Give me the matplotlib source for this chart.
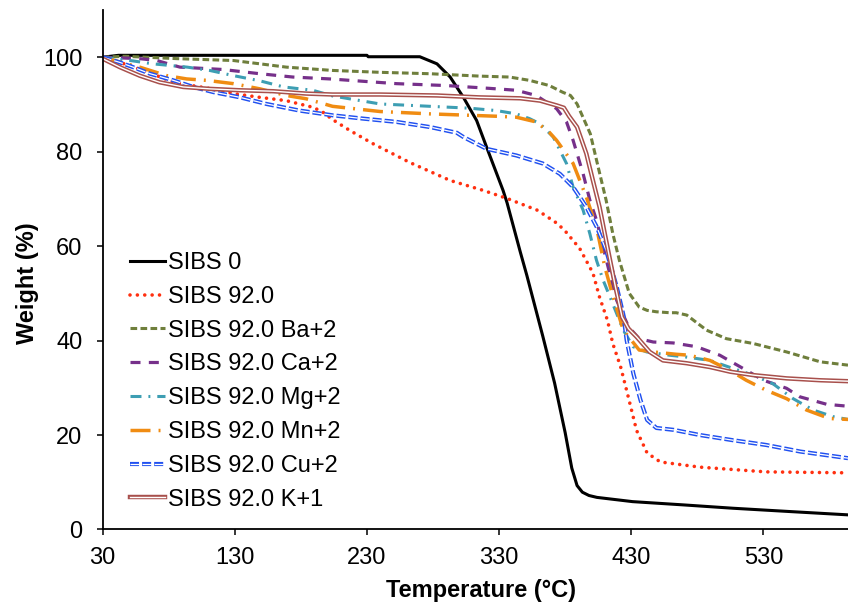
import matplotlib
matplotlib.use("Agg")
import matplotlib.pyplot as plt

plt.rcParams["font.family"] = ["Liberation Sans", "DejaVu Sans"]
plt.rcParams["lines.scale_dashes"] = False

# TGA curves (temperature in C, weight in %)
t_sibs0 = [30, 42, 100, 230, 231, 270, 283, 293, 303, 313, 320.5, 333, 336, 346, 351, 363, 372, 380, 385, 389, 393, 398, 404, 431, 470, 507, 550, 594]
w_sibs0 = [100, 100.4, 100.4, 100.4, 100.1, 100.1, 98.6, 95.8, 91.5, 86.6, 81, 71.8, 69.2, 58.8, 53.8, 41.0, 31.0, 20.5, 13.0, 9.3, 7.9, 7.2, 6.8, 5.9, 5.2, 4.5, 3.8, 3.1]

t_920 = [30, 51, 71, 81, 88.5, 104, 119, 129, 149, 169, 189, 196, 204, 217, 234.5, 262.5, 293, 318, 336, 359, 374, 380, 391, 401, 406, 412, 416, 422, 427, 434, 442, 452, 482, 532, 594]
w_920 = [100, 98.2, 96.1, 95, 94.4, 93.7, 93, 92.3, 91.5, 90.8, 89.4, 88.5, 86.8, 84.5, 81.7, 77.7, 73.9, 71.8, 70.1, 67.6, 64.8, 63.2, 59.5, 54.3, 49.2, 44.3, 39.4, 34.4, 28.9, 21, 16.2, 14.3, 13.2, 12.2, 12.0]

t_ba = [30, 47, 86, 129, 169, 204, 240, 278, 315, 338, 353, 368, 378, 384, 389, 399, 405, 411, 416, 421, 428.5, 436, 442, 449, 459, 464, 472, 487, 502, 522, 547.5, 573, 594]
w_ba = [100, 100.2, 99.7, 99.3, 97.9, 97.2, 96.8, 96.5, 96, 95.8, 95.1, 94, 92.6, 91.9, 90.1, 83.8, 76.7, 69.7, 62.7, 57, 50, 47.1, 46.4, 46.1, 45.9, 45.9, 45.4, 42.2, 40.4, 39.4, 37.6, 35.5, 34.8]

t_ca = [30, 58, 71, 88.5, 121, 149, 174, 202, 252.5, 290, 323, 343, 358, 373.5, 381, 386, 393.6, 398.7, 403.7, 408.7, 413.7, 419, 428, 436, 446.6, 461.7, 479.4, 497, 514.6, 530, 547.5, 557.5, 578, 594]
w_ca = [100, 99.7, 99.3, 97.9, 97.4, 96.5, 95.8, 95.4, 94.4, 94, 93.4, 93, 91.9, 89.1, 86.3, 82.4, 75.3, 69.7, 65.5, 59.8, 54.2, 48.5, 42.9, 40.4, 39.7, 39.5, 38.7, 36.9, 34.1, 31.6, 29.9, 28.1, 26.5, 26.1]

t_mg = [30, 51, 68, 94, 111, 129, 149, 167, 189, 204, 240, 278, 308, 328, 343, 353, 361, 371, 381, 386, 393.6, 398.7, 403.7, 408.7, 415, 424, 431.4, 441.6, 459, 472, 489.5, 507, 522, 537, 552.5, 567.6, 582.7, 594]
w_mg = [100, 99.3, 98.6, 97.9, 97.2, 96.1, 95, 93.7, 93, 91.8, 90.1, 89.6, 89.2, 88.7, 88, 87, 85.9, 83.1, 77.5, 72.5, 67.6, 62.6, 57, 52.8, 48.5, 42.2, 38.7, 37.6, 36.9, 36.5, 35.8, 34.1, 32.7, 30.9, 27.7, 25.3, 23.9, 23.3]

t_mn = [30, 48, 58, 78.5, 93.6, 108.7, 129, 149, 169, 184, 204, 240, 278, 308, 328, 343, 358, 368, 373.5, 386, 396, 403.7, 410, 416.3, 424, 436, 446.6, 464, 474, 489.5, 504.6, 517, 532, 547.5, 562.6, 580, 594]
w_mn = [100, 98.6, 97.9, 96.1, 95.4, 95.1, 94.4, 93.3, 91.9, 91.2, 89.6, 88.5, 88, 87.7, 87.5, 87.3, 86.3, 84.1, 82.4, 77.5, 70.4, 64, 55.6, 49.2, 42.2, 38, 37.6, 37.1, 36.9, 35.8, 33.7, 31.6, 29.5, 27.7, 25.3, 23.5, 23.3]

t_cu = [30, 43, 53, 66, 83.5, 98.6, 114, 134, 154, 179, 204, 227, 252.5, 278, 298, 303, 320.5, 343, 363, 376, 386, 396, 404, 411, 419, 424, 426.5, 431.6, 437, 442, 449, 462, 482, 507, 532, 558, 594]
w_cu = [100, 98.9, 97.9, 96.5, 95.1, 93.7, 92.6, 91.5, 90.1, 88.7, 87.7, 87, 86.3, 85.2, 84, 83.1, 80.6, 79.2, 77.5, 75.3, 72.5, 68.3, 64, 59.1, 51.4, 45.5, 40.1, 33, 27.4, 23.2, 21.5, 21.1, 20, 18.9, 17.9, 16.5, 15.1]

t_k = [30, 43, 58, 73, 91, 111, 134, 159, 184, 204, 240, 283, 315, 346, 361, 373.5, 379, 383, 389, 396, 401, 406, 410, 414, 418, 423, 428, 434, 444, 454, 472, 489.5, 505, 522, 547.5, 573, 594]
w_k = [99.7, 97.9, 96.1, 94.7, 93.7, 93.3, 93, 92.8, 92.3, 92.1, 92.1, 91.9, 91.5, 91.3, 90.8, 89.8, 89.3, 87.5, 85.2, 79.6, 73.9, 68.3, 62.6, 57, 51.4, 45, 42.5, 40.8, 37.6, 35.8, 35.2, 34.4, 33.4, 32.7, 32, 31.6, 31.4]

labels = ["SIBS 0", "SIBS 92.0", "SIBS 92.0 Ba+2", "SIBS 92.0 Ca+2",
          "SIBS 92.0 Mg+2", "SIBS 92.0 Mn+2", "SIBS 92.0 Cu+2", "SIBS 92.0 K+1"]

fig = plt.figure(figsize=(8.48, 6.05), dpi=100)
ax = fig.add_axes([0.121, 0.1248, 0.879, 0.8587])

handles = []
h, = ax.plot(t_sibs0, w_sibs0, color="black", lw=2.2)
handles.append(h)
h, = ax.plot(t_920, w_920, color="#FF3010", lw=2.6, linestyle=(0, (0.01, 5.3)),
             dash_capstyle="round")
handles.append(h)
h, = ax.plot(t_ba, w_ba, color="#6F7F3C", lw=2.2, linestyle=(0, (4.8, 2.4)))
handles.append(h)
h, = ax.plot(t_ca, w_ca, color="#76308A", lw=2.3, linestyle=(0, (7.2, 6.0)))
handles.append(h)
h, = ax.plot(t_mg, w_mg, color="#3D9EB3", lw=2.2, linestyle=(0, (7.9, 5.0, 1.4, 5.0)))
handles.append(h)
h, = ax.plot(t_mn, w_mn, color="#F08C12", lw=2.5, linestyle=(0, (14.4, 5.8, 1.4, 5.8)))
handles.append(h)

# double lines: colored line with a thin white core
cu_out, = ax.plot(t_cu, w_cu, color="#2050F0", lw=3.0, linestyle=(0, (6.5, 2.2)))
cu_in, = ax.plot(t_cu, w_cu, color="white", lw=0.9, linestyle=(0, (6.5, 2.2)))
handles.append((cu_out, cu_in))
k_out, = ax.plot(t_k, w_k, color="#A8504C", lw=3.2)
k_in, = ax.plot(t_k, w_k, color="white", lw=1.0)
handles.append((k_out, k_in))

ax.set_xlim(30, 594)
ax.set_ylim(0, 110)
ax.set_xticks([30, 130, 230, 330, 430, 530])
ax.set_yticks([0, 20, 40, 60, 80, 100])

for s in ["top", "right"]:
    ax.spines[s].set_visible(False)
for s in ["left", "bottom"]:
    ax.spines[s].set_linewidth(1.3)

ax.tick_params(axis="both", direction="out", length=4.5, width=1.1, labelsize=17)
ax.tick_params(axis="x", pad=8)
ax.tick_params(axis="y", pad=10)

ax.set_xlabel("Temperature (°C)", fontsize=17, fontweight="bold", va="center")
ax.set_ylabel("Weight (%)", fontsize=17, fontweight="bold", va="center")
ax.xaxis.set_label_coords(0.508, -0.118)
ax.yaxis.set_label_coords(-0.101, 0.475)

ax.legend(handles, labels, loc="upper left", bbox_to_anchor=(130 / 848, 1 - 252 / 605),
          bbox_transform=fig.transFigure, frameon=False, fontsize=17,
          handlelength=1.48, handletextpad=0.13, labelspacing=0.5,
          borderpad=0, borderaxespad=0)

fig.savefig("out.png", dpi=100)
